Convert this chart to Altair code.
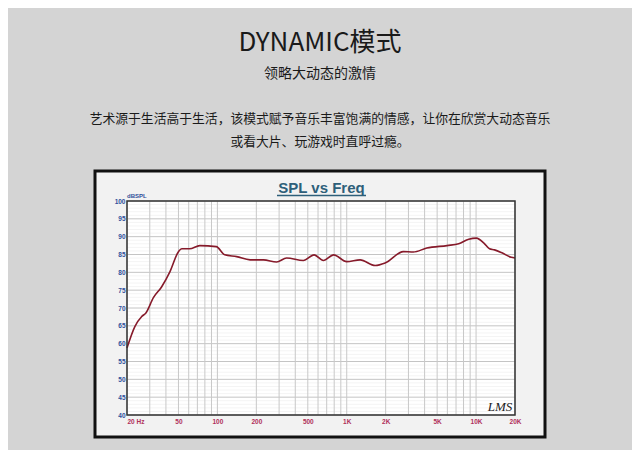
import altair as alt
import pandas as pd

# ---- data ----
freq = [20, 23, 26, 28, 32, 37, 43, 50, 53, 61, 73, 98, 114, 141, 179, 227, 287, 343,
        462, 559, 660, 792, 1000, 1270, 1660, 1980, 2740, 3270, 4160, 5960, 7340,
        8780, 10070, 11500, 12700, 13900, 16000, 18700, 20000]
spl = [58.8, 64.8, 67.6, 68.6, 72.9, 75.9, 80.2, 85.8, 86.6, 86.6, 87.5, 87.2, 84.9, 84.4,
       83.5, 83.5, 82.9, 84.0, 83.3, 84.9, 83.3, 84.9, 83.0, 83.5, 81.9, 82.6, 85.8,
       85.7, 86.8, 87.5, 88.0, 89.3, 89.6, 88.2, 86.6, 86.3, 85.4, 84.2, 84.0]

x_ticks = [20, 50, 100, 200, 500, 1000, 2000, 5000, 10000, 20000]
y_ticks = [40, 45, 50, 55, 60, 65, 70, 75, 80, 85, 90, 95, 100]
v_grid = [20, 30, 40, 50, 60, 70, 80, 90, 100, 200, 300, 400, 500, 600, 700, 800, 900,
          1000, 2000, 3000, 4000, 5000, 6000, 7000, 8000, 9000, 10000, 20000]
h_minor = [v for v in range(41, 100) if v % 5 != 0]

headline = "DYNAMIC模式"
subhead = "领略大动态的激情"
para1 = "艺术源于生活高于生活，该模式赋予音乐丰富饱满的情感，让你在欣赏大动态音乐"
para2 = "或看大片、玩游戏时直呼过瘾。"
chart_title = "SPL vs Freq"
y_unit = "dBSPL"
logo = "LMS"

W, H = 388, 214
CJK = "Noto Sans CJK SC"

xscale = alt.Scale(type="log", domain=[20, 20000])
yscale = alt.Scale(domain=[40, 100])

xaxis = alt.Axis(values=x_ticks, grid=False, ticks=False, domain=False, title=None,
                 labelExpr="datum.value == 20 ? '20 Hz' : datum.value >= 1000 ? (datum.value/1000) + 'K' : datum.value",
                 labelColor="#b0305a", labelFontSize=6.5, labelFont="Liberation Sans",
                 labelFontWeight="bold",
                 labelPadding=3, labelOverlap=False, labelFlush=False,
                 labelAlign=alt.condition("datum.value == 20", alt.value("left"), alt.value("center")),
                 zindex=1)
yaxis = alt.Axis(values=y_ticks, grid=False, ticks=False, domain=False, title=None,
                 labelColor="#2f4f9a", labelFontSize=6.5, labelFont="Liberation Sans",
                 labelFontWeight="bold",
                 labelPadding=2, labelOverlap=False, zindex=1)

dummy = pd.DataFrame({"a": [0]})

panel = alt.Chart(dummy).mark_rect(fill="#f2f2f2", stroke="#111111", strokeWidth=3).encode(
    x=alt.value(-32), x2=alt.value(418), y=alt.value(-30), y2=alt.value(236))
plotbg = alt.Chart(dummy).mark_rect(fill="white").encode(
    x=alt.value(0), x2=alt.value(W), y=alt.value(0), y2=alt.value(H))

hminor = alt.Chart(pd.DataFrame({"y": h_minor})).mark_rule(color="#f4f4f4", strokeWidth=1).encode(
    y=alt.Y("y:Q", scale=yscale, axis=yaxis))
hmajor = alt.Chart(pd.DataFrame({"y": y_ticks})).mark_rule(color="#c4c4c4", strokeWidth=1).encode(
    y=alt.Y("y:Q", scale=yscale, axis=yaxis))
vgrid = alt.Chart(pd.DataFrame({"x": v_grid})).mark_rule(color="#c8c8c8", strokeWidth=1).encode(
    x=alt.X("x:Q", scale=xscale, axis=xaxis))

curve = alt.Chart(pd.DataFrame({"f": freq, "s": spl})).mark_line(
    color="#861a2a", strokeWidth=1.6, interpolate="monotone").encode(
    x=alt.X("f:Q", scale=xscale, axis=xaxis),
    y=alt.Y("s:Q", scale=yscale, axis=yaxis))

border = alt.Chart(dummy).mark_rect(fill=None, stroke="#333333", strokeWidth=1.5).encode(
    x=alt.value(0), x2=alt.value(W), y=alt.value(0), y2=alt.value(H))


def label(txt, x, y, **kw):
    return alt.Chart(pd.DataFrame({"t": [txt]})).mark_text(**kw).encode(
        text="t:N", x=alt.value(x), y=alt.value(y))


t1 = label(headline, 193, -158, font=CJK, fontSize=26, color="#1a1a1a", baseline="middle", align="center")
t2 = label(subhead, 193, -127.5, font=CJK, fontSize=14, color="#1a1a1a", baseline="middle", align="center")
t3 = label(para1, 193, -82.5, font=CJK, fontSize=12.8, color="#1a1a1a", baseline="middle", align="center")
t4 = label(para2, 193, -59.5, font=CJK, fontSize=12.8, color="#1a1a1a", baseline="middle", align="center")
t5 = label(chart_title, 194.5, -13, font="Liberation Sans", fontSize=15, fontWeight="bold",
           color="#2e5f7a", baseline="middle", align="center")
underline = alt.Chart(dummy).mark_rule(color="#2e5f7a", strokeWidth=1.5).encode(
    x=alt.value(150), x2=alt.value(239), y=alt.value(-5.5))
t6 = label(y_unit, 0, -5, font="Liberation Sans", fontSize=6, fontWeight="bold", color="#2f4f9a",
           baseline="middle", align="left")
t7 = label(logo, 373, 205.5, font="Liberation Serif", fontSize=13, fontStyle="italic",
           color="#222222", baseline="middle", align="center")

chart = alt.layer(panel, plotbg, hminor, hmajor, vgrid, curve, border,
                  t1, t2, t3, t4, t5, underline, t6, t7).properties(
    width=W, height=H, background="#d4d4d4",
    padding={"left": 119, "top": 193, "right": 117, "bottom": 35},
    autosize=alt.AutoSizeParams(type="none"),
).configure_view(stroke=None)

chart.save("out.html", embed_options={"renderer": "svg", "actions": False})
